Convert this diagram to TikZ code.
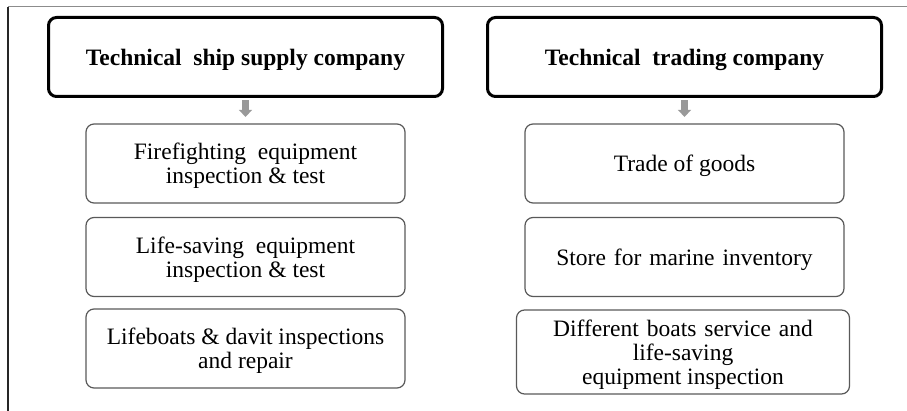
\documentclass[tikz,border=0pt]{standalone}
\usepackage{fontspec}
\setmainfont{Liberation Serif}
\usetikzlibrary{arrows.meta}

\begin{document}
\begin{tikzpicture}[x=1pt, y=-1pt,
  head/.style={draw, line width=3pt, rounded corners=8pt, minimum width=394pt, minimum height=79pt, inner sep=0pt, text depth=0pt, font=\bfseries\fontsize{23.5}{25}\selectfont},
  item/.style={draw=black!65, line width=1.2pt, rounded corners=8pt, align=center, minimum width=319pt, minimum height=79pt, inner sep=0pt, text depth=0pt, font=\fontsize{23.5}{24}\selectfont},
  down/.style={black!40, line width=7pt, -{Triangle[width=13pt, length=7pt]}, shorten <=2.5pt, shorten >=6.5pt}]
\newcommand{\lcol}{245.5}
\newcommand{\rcol}{684.5}
\newcommand{\wsp}{\hspace{8pt}}
\useasboundingbox (0, 0) rectangle (907, 411);
%% frame
\draw[black!45, line width=1pt] (8, 7) -- (907, 7);
\draw[black!85, line width=2.2pt] (8, 7) -- (8, 411);
%% left column
\node[head] (hdrship) at (\lcol, 57) {Technical\ \ ship supply company};
\node[item] (fire) at (\lcol, 163.5) {Firefighting\ \ equipment\\inspection \& test};
\node[item] (life) at (\lcol, 257) {Life-saving\ \ equipment\\inspection \& test};
\node[item] (boats) at (\lcol, 348.5) {Lifeboats \& davit inspections\\and repair};
\draw[down] (hdrship.south) -- (fire.north);
%% right column
\node[head] (hdrtrade) at (\rcol, 57) {Technical\ \ trading company};
\node[item] (trade) at (\rcol, 163.5) {Trade of goods};
\node[item] (store) at (\rcol, 257) {Store\wsp for\wsp marine\wsp inventory};
\node[item, minimum width=333pt, minimum height=84pt] (service) at (683, 352) {Different\wsp boats\wsp service\wsp and\\life-saving\\equipment inspection};
\draw[down] (hdrtrade.south) -- (trade.north);
\end{tikzpicture}
\end{document}
